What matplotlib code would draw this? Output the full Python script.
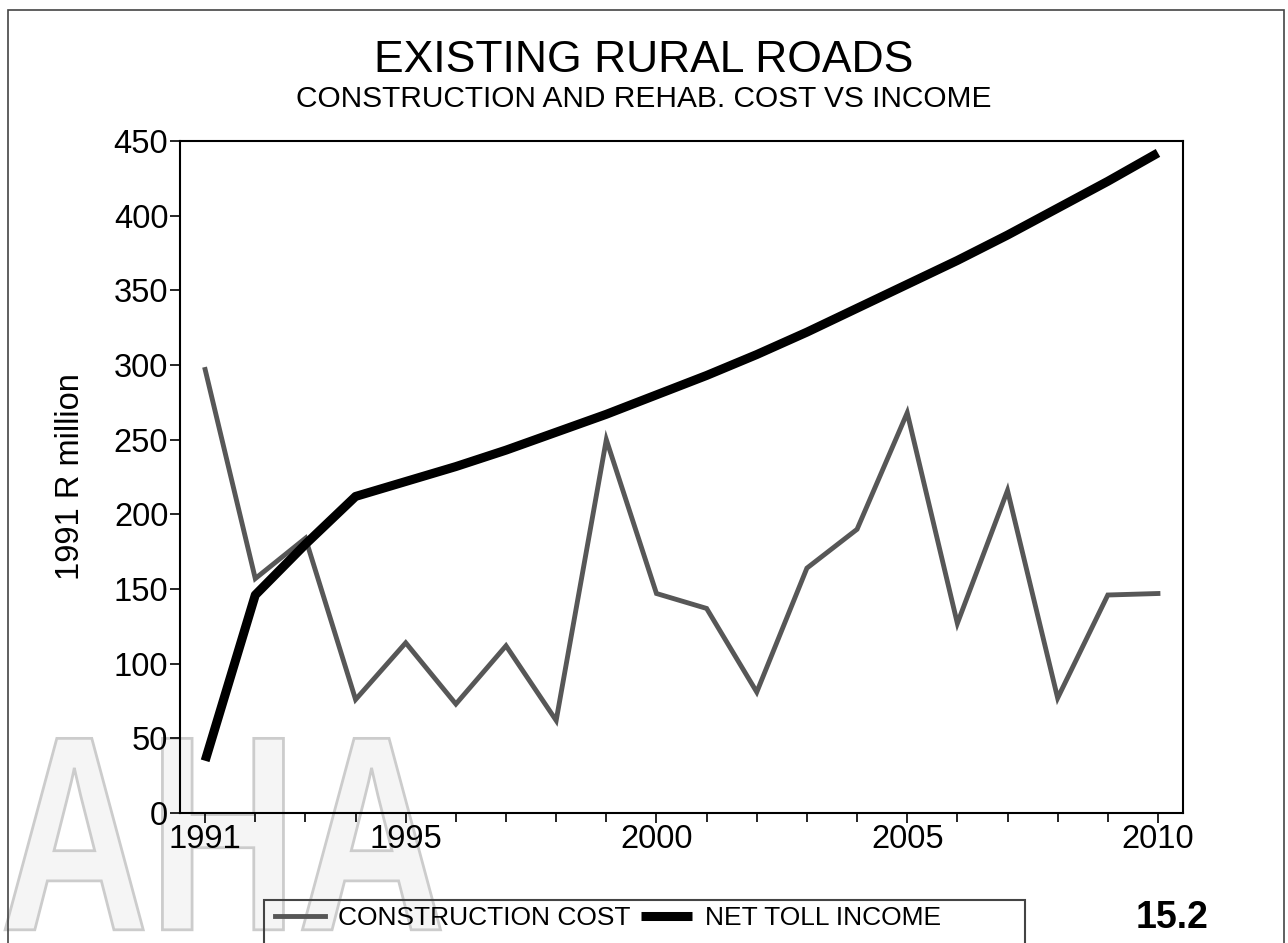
import matplotlib
matplotlib.use("Agg")
import matplotlib.pyplot as plt
from matplotlib.patches import Rectangle, PathPatch
from matplotlib.textpath import TextPath
from matplotlib.font_manager import FontProperties
from matplotlib.transforms import Affine2D
from matplotlib.ticker import MultipleLocator

plt.rcParams['font.family'] = ['Liberation Sans', 'DejaVu Sans']

years = list(range(1991, 2011))
construction_cost = [297, 157, 184, 76, 114, 73, 112, 62, 250, 147,
                     137, 81, 164, 190, 268, 127, 216, 77, 146, 147]
net_toll_income = [35, 146, 180, 212, 222, 232, 243, 255, 267, 280,
                   293, 307, 322, 338, 354, 370, 387, 405, 423, 442]
year_labels = [1991, 1995, 2000, 2005, 2010]

fig = plt.figure(figsize=(12.88, 9.43), dpi=100)
ax = fig.add_axes([0.1398, 0.1378, 0.7787, 0.7127])

# faint stamp in the lower-left corner, squeezed sideways
stamp = TextPath((0, 0), "AHA", size=1, prop=FontProperties(family='Liberation Sans', weight='bold'))
ext = stamp.get_extents()
to_fig = (Affine2D().translate(-ext.x0, -ext.y0)
          .scale(0.338 / ext.width, 0.203 / ext.height)
          .translate(0.004, 0.014) + fig.transFigure)
fig.patches.append(PathPatch(stamp, transform=to_fig, facecolor='#f5f5f5',
                             edgecolor='#cccccc', lw=2, zorder=-1))

ax.plot(years, construction_cost, color='#575757', lw=3.5, solid_joinstyle='miter',
        label='CONSTRUCTION COST', zorder=3)
ax.plot(years, net_toll_income, color='black', lw=6.5, solid_capstyle='butt',
        label='NET TOLL INCOME', zorder=4)

ax.set_xlim(1990.5, 2010.5)
ax.set_ylim(0, 450)
ax.set_xticks(year_labels)
ax.xaxis.set_minor_locator(MultipleLocator(1))
ax.yaxis.set_major_locator(MultipleLocator(50))
ax.tick_params(axis='both', which='both', direction='out', width=1.2)
ax.tick_params(axis='both', which='major', length=7.5, labelsize=23.5)
ax.tick_params(axis='x', which='minor', length=6.5)
ax.tick_params(axis='y', pad=1)
ax.tick_params(axis='x', pad=0.5)
ax.patch.set_alpha(0)
for s in ax.spines.values():
    s.set_linewidth(1.5)

ax.set_ylabel("1991 R million", fontsize=23.5, labelpad=20)

fig.text(0.5, 0.936, "EXISTING RURAL ROADS", fontsize=32, ha='center', va='center')
fig.text(0.5, 0.895, "CONSTRUCTION AND REHAB. COST VS INCOME", fontsize=21.5,
         ha='center', va='center')

# legend box at the bottom
fig.patches.append(Rectangle((0.205, -0.01), 0.591, 0.0556, transform=fig.transFigure,
                             fill=False, lw=1.5, edgecolor='#444444'))
fig.legend(loc='center left', bbox_to_anchor=(0.2135, 0.0265), ncol=2, frameon=False,
           fontsize=19, handlelength=1.9, handletextpad=0.5, columnspacing=0.4,
           borderaxespad=0, borderpad=0)

fig.text(0.910, 0.0265, "15.2", fontsize=27, fontweight='bold', ha='center', va='center')

# page frame
fig.patches.append(Rectangle((0.006, -0.01), 0.991, 0.999, transform=fig.transFigure,
                             fill=False, lw=1.2, edgecolor='#444444'))

fig.savefig("out.png", dpi=100)
